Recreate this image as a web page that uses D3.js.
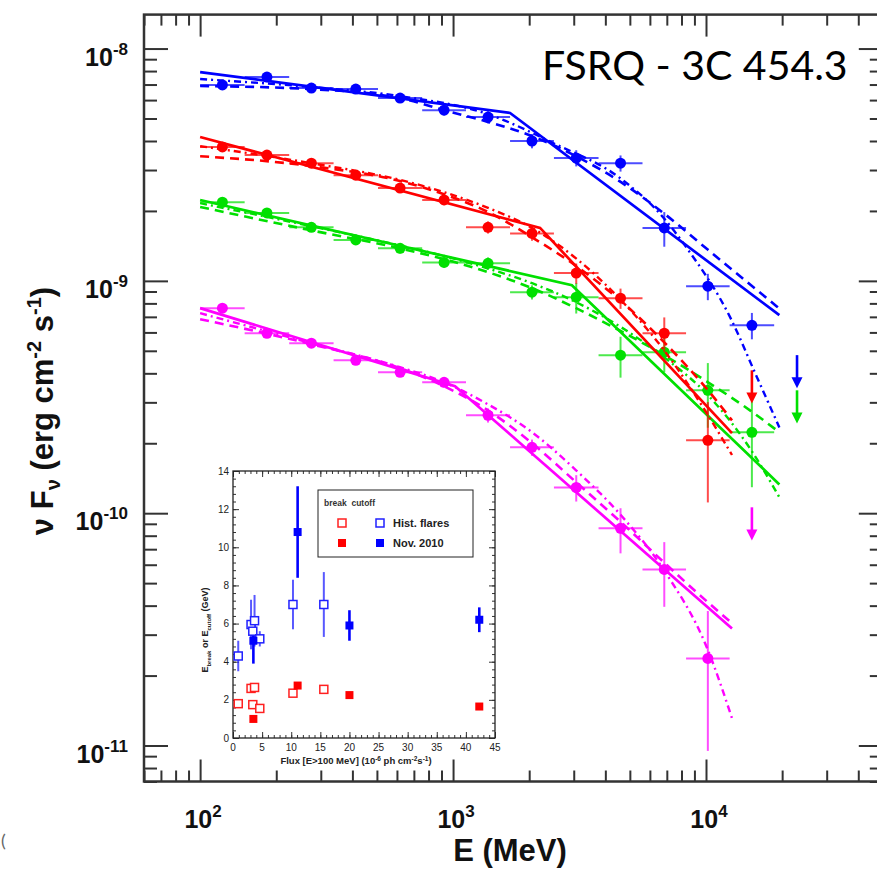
<!DOCTYPE html>
<html>
<head>
<meta charset="utf-8">
<script src="https://cdn.jsdelivr.net/npm/d3@7"></script>
<style>
  html, body { margin: 0; padding: 0; background: #fff; }
  svg { display: block; }
</style>
</head>
<body>
<svg id="chart" width="877" height="869"></svg>
<script>
// ---------------------------------------------------------------
// Gamma-ray SED of FSRQ 3C 454.3 in four epochs, with inset of
// fitted break / cutoff energies versus flux.
// ---------------------------------------------------------------

// Energy bin edges (MeV)
const binEdges = [100, 150, 225, 337, 505, 755, 1125, 1680, 2505, 3760, 5610, 8340, 12400, 18600, 28200];

// Axis domains and tick labels
const eDomain = [60, 50000];
const fDomain = [7e-12, 1.4e-8];
const eLabelTicks = [1e2, 1e3, 1e4];
const fLabelTicks = [1e-8, 1e-9, 1e-10, 1e-11];

// Blue epoch: nuFnu per bin (erg cm^-2 s^-1) and relative errors
const blueFlux = [6.97e-9, 7.54e-9, 6.76e-9, 6.69e-9, 6.12e-9, 5.43e-9, 5.07e-9, 4.0e-9, 3.38e-9, 3.21e-9, 1.69e-9, 9.49e-10, 6.44e-10];
const blueErr  = [0.04, 0.04, 0.04, 0.04, 0.04, 0.05, 0.06, 0.07, 0.08, 0.08, 0.17, 0.13, 0.13];
const blueUL   = { bin: 13, value: 4.79e-10 };
const blueBplE = [100, 1680, 19500];
const blueBplF = [7.92e-9, 5.28e-9, 7.12e-10];
const blueLpE  = [100, 275, 617, 921, 1375, 2053, 3064, 4613, 6823, 10185, 19500];
const blueLpF  = [6.90e-9, 6.69e-9, 6.12e-9, 5.43e-9, 4.83e-9, 4.20e-9, 3.44e-9, 2.66e-9, 1.95e-9, 1.36e-9, 7.60e-10];
const blueCutE = [100, 275, 617, 1375, 2485, 4571, 6761, 8414, 12450, 15900, 19500];
const blueCutF = [7.39e-9, 6.83e-9, 6.24e-9, 5.22e-9, 3.92e-9, 2.77e-9, 1.88e-9, 1.38e-9, 6.98e-10, 3.85e-10, 2.34e-10];

// Red epoch
const redFlux = [3.77e-9, 3.48e-9, 3.21e-9, 2.85e-9, 2.51e-9, 2.23e-9, 1.70e-9, 1.60e-9, 1.08e-9, 8.42e-10, 5.95e-10, 2.06e-10];
const redErr  = [0.04, 0.04, 0.04, 0.04, 0.04, 0.05, 0.06, 0.07, 0.1, 0.1, 0.17, 0.46];
const redUL   = { bin: 12, value: 4.12e-10 };
const redBplE = [100, 2208, 12670];
const redBplF = [4.16e-9, 1.69e-9, 2.21e-10];
const redLpE  = [100, 275, 617, 921, 1375, 2053, 3064, 4613, 6823, 10185, 12670];
const redLpF  = [3.44e-9, 3.12e-9, 2.69e-9, 2.36e-9, 1.98e-9, 1.54e-9, 1.16e-9, 8.18e-10, 5.45e-10, 3.38e-10, 2.51e-10];
const redCutE = [100, 275, 617, 921, 1375, 2053, 3064, 4613, 6823, 10185, 12670];
const redCutF = [3.80e-9, 3.21e-9, 2.72e-9, 2.41e-9, 2.06e-9, 1.69e-9, 1.25e-9, 8.26e-10, 5.03e-10, 2.64e-10, 1.78e-10];

// Green epoch
const greenFlux = [2.18e-9, 1.96e-9, 1.70e-9, 1.50e-9, 1.38e-9, 1.20e-9, 1.19e-9, 8.94e-10, 8.51e-10, 4.79e-10, 4.93e-10, 3.38e-10, 2.23e-10];
const greenErr  = [0.04, 0.04, 0.04, 0.04, 0.05, 0.05, 0.06, 0.07, 0.15, 0.2, 0.18, 0.31, 0.42];
const greenUL   = { bin: 13, value: 3.38e-10 };
const greenBplE = [100, 2950, 19500];
const greenBplF = [2.23e-9, 9.58e-10, 1.33e-10];
const greenLpE  = [100, 275, 617, 921, 1375, 2053, 3064, 4613, 6823, 10185, 15070, 19500];
const greenLpF  = [2.08e-9, 1.65e-9, 1.38e-9, 1.24e-9, 1.09e-9, 9.30e-10, 7.63e-10, 6.07e-10, 4.79e-10, 3.66e-10, 2.75e-10, 2.23e-10];
const greenCutE = [100, 275, 617, 921, 1375, 2053, 3064, 4613, 6823, 10185, 15070, 19500];
const greenCutF = [2.16e-9, 1.72e-9, 1.42e-9, 1.28e-9, 1.13e-9, 9.77e-10, 8.10e-10, 6.32e-10, 4.69e-10, 3.22e-10, 1.87e-10, 1.17e-10];

// Magenta epoch
const magentaFlux = [7.63e-10, 5.95e-10, 5.39e-10, 4.55e-10, 4.04e-10, 3.66e-10, 2.64e-10, 1.92e-10, 1.29e-10, 8.61e-11, 5.73e-11, 2.37e-11];
const magentaErr  = [0.04, 0.04, 0.04, 0.04, 0.04, 0.05, 0.07, 0.08, 0.13, 0.22, 0.31, 0.6];
const magentaUL   = { bin: 12, value: 1.06e-10 };
const magentaBplE = [100, 1018, 12670];
const magentaBplF = [7.63e-10, 3.52e-10, 3.19e-11];
const magentaLpE  = [100, 275, 617, 921, 1375, 2053, 3064, 4613, 6823, 10185, 12670];
const magentaLpF  = [6.84e-10, 5.34e-10, 4.21e-10, 3.52e-10, 2.77e-10, 2.00e-10, 1.36e-10, 9.14e-11, 6.14e-11, 4.13e-11, 3.36e-11];
const magentaCutE = [100, 275, 617, 921, 1375, 2053, 3064, 4613, 6823, 10185, 12670];
const magentaCutF = [7.26e-10, 5.39e-10, 4.25e-10, 3.66e-10, 2.94e-10, 2.23e-10, 1.53e-10, 9.79e-11, 5.68e-11, 2.57e-11, 1.31e-11];

// Inset: break / cutoff energies (GeV) vs. flux E>100 MeV (1e-6 ph cm^-2 s^-1)
const histFlux      = [0.9, 3.1, 3.7, 3.4, 4.6, 10.3, 15.6];
const histBreak     = [1.8, 2.6, 2.65, 1.75, 1.55, 2.35, 2.55];
const histCutoff    = [4.3, 5.95, 6.15, 5.6, 5.2, 7.0, 7.0];
const histCutoffErr = [0.8, 1.3, 1.35, 0.5, 0.4, 1.3, 1.7];
const novFlux       = [3.5, 11.1, 20.0, 42.3];
const novBreak      = [1.0, 2.75, 2.25, 1.65];
const novCutoff     = [5.1, 10.8, 5.9, 6.2];
const novCutoffErr  = [1.2, 2.4, 0.8, 0.65];
const insetXTicks   = [0, 5, 10, 15, 20, 25, 30, 35, 40, 45];
const insetYTicks   = [0, 2, 4, 6, 8, 10, 12, 14];

// ---------------------------------------------------------------
const W = 877, H = 869;
const svg = d3.select("#chart");
svg.append("rect").attr("width", W).attr("height", H).attr("fill", "#fff");

const FONT = "'Liberation Sans', Arial, Helvetica, sans-serif";
const AXIS = "#333";

const x = d3.scaleLog().domain(eDomain).range([144, 882.8]);
const y = d3.scaleLog().domain(fDomain).range([781.5, 14.6]);
const [x0, x1] = x.range();
const [y0, y1] = y.range();

function logTicks(lo, hi) {
  const out = [];
  for (let p = Math.floor(Math.log10(lo)); p <= Math.ceil(Math.log10(hi)); p++) {
    for (let k = 1; k < 10; k++) {
      const v = k * Math.pow(10, p);
      if (v >= lo * 0.999 && v <= hi * 1.001) out.push(v);
    }
  }
  return out;
}
const eTicks = logTicks(eDomain[0], eDomain[1]);
const fTicks = logTicks(fDomain[0], fDomain[1]);
const isMajor = v => Math.abs(Math.log10(v) - Math.round(Math.log10(v))) < 1e-6;

function tickAxis(axisFn, scale, values, size, transform) {
  const g = svg.append("g").attr("transform", transform)
    .call(axisFn(scale).tickValues(values).tickSize(size).tickFormat(""));
  g.select(".domain").remove();
  g.selectAll(".tick line").attr("stroke", AXIS).attr("stroke-width", 2);
  return g;
}
const eMinor = eTicks.filter(v => !isMajor(v)), eMajor = eTicks.filter(isMajor);
const fMinor = fTicks.filter(v => !isMajor(v)), fMajor = fTicks.filter(isMajor);

tickAxis(d3.axisBottom, x, eMinor, -11, `translate(0,${y0})`);
tickAxis(d3.axisBottom, x, eMajor, -22, `translate(0,${y0})`);
tickAxis(d3.axisTop, x, eMinor, -11, `translate(0,${y1})`);
tickAxis(d3.axisTop, x, eMajor, -22, `translate(0,${y1})`);
tickAxis(d3.axisLeft, y, fMinor, -13, `translate(${x0},0)`);
tickAxis(d3.axisLeft, y, fMajor, -24, `translate(${x0},0)`);
tickAxis(d3.axisRight, y, fMinor, -13, `translate(${x1},0)`);
tickAxis(d3.axisRight, y, fMajor, -24, `translate(${x1},0)`);

svg.append("rect")
  .attr("x", x0).attr("y", y1).attr("width", x1 - x0).attr("height", y0 - y1)
  .attr("fill", "none").attr("stroke", AXIS).attr("stroke-width", 2.5);

// Power-of-ten tick labels
eLabelTicks.forEach(v => {
  const t = svg.append("text").attr("x", x(v) + 3).attr("y", 828)
    .attr("text-anchor", "middle").attr("font-family", FONT)
    .attr("font-weight", "bold").attr("font-size", 25).attr("fill", "#111");
  t.append("tspan").text("10");
  t.append("tspan").attr("dy", -11).attr("font-size", 17).text(Math.round(Math.log10(v)));
});
fLabelTicks.forEach(v => {
  const t = svg.append("text").attr("x", 128).attr("y", y(v) + 17)
    .attr("text-anchor", "end").attr("font-family", FONT)
    .attr("font-weight", "bold").attr("font-size", 25).attr("fill", "#111");
  t.append("tspan").text("10");
  t.append("tspan").attr("dy", -11).attr("font-size", 17).text("-" + Math.abs(Math.round(Math.log10(v))));
});

// Axis titles
svg.append("text").attr("x", 510).attr("y", 861).attr("text-anchor", "middle")
  .attr("font-family", FONT).attr("font-weight", "bold").attr("font-size", 31)
  .attr("fill", "#111").text("E (MeV)");

const yt = svg.append("text").attr("transform", "translate(53,411) rotate(-90)")
  .attr("text-anchor", "middle").attr("font-family", FONT).attr("font-weight", "bold")
  .attr("font-size", 31).attr("fill", "#111");
yt.append("tspan").text("\u03bd F");
yt.append("tspan").attr("dy", 7).attr("font-size", 20).text("\u03bd");
yt.append("tspan").attr("dy", -7).text(" (erg cm");
yt.append("tspan").attr("dy", -12).attr("font-size", 20).text("-2");
yt.append("tspan").attr("dy", 12).text(" s");
yt.append("tspan").attr("dy", -12).attr("font-size", 20).text("-1");
yt.append("tspan").attr("dy", 12).text(")");

svg.append("text").attr("x", 542).attr("y", 80)
  .attr("font-family", "Lato, 'Open Sans', sans-serif").attr("font-size", 41)
  .attr("fill", "#000").text("FSRQ - 3C 454.3");

svg.append("text").attr("x", 1).attr("y", 847)
  .attr("font-family", "Lato, sans-serif").attr("font-size", 18)
  .attr("fill", "#666").text("(");

// ---------------------------------------------------------------
// SED series
const series = [
  { color: "#ff00ff", flux: magentaFlux, err: magentaErr, ul: magentaUL,
    bpl: [magentaBplE, magentaBplF], lp: [magentaLpE, magentaLpF], cut: [magentaCutE, magentaCutF] },
  { color: "#00e000", flux: greenFlux, err: greenErr, ul: greenUL,
    bpl: [greenBplE, greenBplF], lp: [greenLpE, greenLpF], cut: [greenCutE, greenCutF] },
  { color: "#ff0000", flux: redFlux, err: redErr, ul: redUL,
    bpl: [redBplE, redBplF], lp: [redLpE, redLpF], cut: [redCutE, redCutF] },
  { color: "#0000ff", flux: blueFlux, err: blueErr, ul: blueUL,
    bpl: [blueBplE, blueBplF], lp: [blueLpE, blueLpF], cut: [blueCutE, blueCutF] }
];

const straight = d3.line().x(d => x(d[0])).y(d => y(d[1]));
const smooth = d3.line().x(d => x(d[0])).y(d => y(d[1])).curve(d3.curveMonotoneX);
const zipPairs = ([es, fs]) => es.map((e, i) => [e, fs[i]]);
const binCenter = i => Math.sqrt(binEdges[i] * binEdges[i + 1]);

const plot = svg.append("g");
series.forEach(s => {
  const g = plot.append("g");
  g.append("path").attr("d", straight(zipPairs(s.bpl)))
    .attr("fill", "none").attr("stroke", s.color).attr("stroke-width", 2.7);
  g.append("path").attr("d", smooth(zipPairs(s.lp)))
    .attr("fill", "none").attr("stroke", s.color).attr("stroke-width", 2.6)
    .attr("stroke-dasharray", "9,6");
  g.append("path").attr("d", smooth(zipPairs(s.cut)))
    .attr("fill", "none").attr("stroke", s.color).attr("stroke-width", 2.4)
    .attr("stroke-dasharray", "7,4,2,4");

  s.flux.forEach((f, i) => {
    const cx = x(binCenter(i)), cy = y(f);
    g.append("line").attr("x1", x(binEdges[i])).attr("x2", x(binEdges[i + 1]))
      .attr("y1", cy).attr("y2", cy)
      .attr("stroke", s.color).attr("stroke-width", 2).attr("stroke-opacity", 0.7);
    g.append("line").attr("x1", cx).attr("x2", cx)
      .attr("y1", y(f * (1 - s.err[i]))).attr("y2", y(f * (1 + s.err[i])))
      .attr("stroke", s.color).attr("stroke-width", 2).attr("stroke-opacity", 0.7);
    g.append("circle").attr("cx", cx).attr("cy", cy).attr("r", 5.5).attr("fill", s.color);
  });

  // upper limit
  const ux = x(binCenter(s.ul.bin));
  const uTop = y(s.ul.value), uTip = y(s.ul.value * 0.72);
  g.append("line").attr("x1", ux).attr("x2", ux).attr("y1", uTop).attr("y2", uTip - 6)
    .attr("stroke", s.color).attr("stroke-width", 2.6);
  g.append("path")
    .attr("d", `M${ux - 5.5},${uTip - 11}L${ux + 5.5},${uTip - 11}L${ux},${uTip}Z`)
    .attr("fill", s.color);
});

// ---------------------------------------------------------------
// Inset
const xi = d3.scaleLinear().domain([0, 45]).range([233, 495]);
const yi = d3.scaleLinear().domain([0, 14]).range([738, 471]);
const inset = svg.append("g");
inset.append("rect").attr("x", 233).attr("y", 471).attr("width", 262).attr("height", 267)
  .attr("fill", "#fff");

function insetTicks(axisFn, scale, values, size, transform) {
  const g = inset.append("g").attr("transform", transform)
    .call(axisFn(scale).tickValues(values).tickSize(size).tickFormat(""));
  g.select(".domain").remove();
  g.selectAll(".tick line").attr("stroke", "#333").attr("stroke-width", 1);
}
const ixMinor = d3.range(0, 45.01, 1);
const iyMinor = d3.range(0, 14.01, 0.4);
insetTicks(d3.axisBottom, xi, ixMinor, -3, "translate(0,738)");
insetTicks(d3.axisBottom, xi, insetXTicks, -6, "translate(0,738)");
insetTicks(d3.axisTop, xi, ixMinor, -3, "translate(0,471)");
insetTicks(d3.axisTop, xi, insetXTicks, -6, "translate(0,471)");
insetTicks(d3.axisLeft, yi, iyMinor, -3, "translate(233,0)");
insetTicks(d3.axisLeft, yi, insetYTicks, -6, "translate(233,0)");
insetTicks(d3.axisRight, yi, iyMinor, -3, "translate(495,0)");
insetTicks(d3.axisRight, yi, insetYTicks, -6, "translate(495,0)");
inset.append("rect").attr("x", 233).attr("y", 471).attr("width", 262).attr("height", 267)
  .attr("fill", "none").attr("stroke", "#222").attr("stroke-width", 1.3);

insetXTicks.forEach(v => inset.append("text").attr("x", xi(v)).attr("y", 751)
  .attr("text-anchor", "middle").attr("font-family", FONT).attr("font-size", 10)
  .attr("fill", "#222").text(v));
insetYTicks.forEach(v => inset.append("text").attr("x", 229).attr("y", yi(v) + 3.5)
  .attr("text-anchor", "end").attr("font-family", FONT).attr("font-size", 10)
  .attr("fill", "#222").text(v));

const ixt = inset.append("text").attr("x", 356).attr("y", 764).attr("text-anchor", "middle")
  .attr("font-family", FONT).attr("font-weight", "bold").attr("font-size", 9.5).attr("fill", "#222");
ixt.append("tspan").text("Flux [E>100 MeV] (10");
ixt.append("tspan").attr("dy", -3.5).attr("font-size", 6.5).text("-6");
ixt.append("tspan").attr("dy", 3.5).text(" ph cm");
ixt.append("tspan").attr("dy", -3.5).attr("font-size", 6.5).text("-2");
ixt.append("tspan").attr("dy", 3.5).text("s");
ixt.append("tspan").attr("dy", -3.5).attr("font-size", 6.5).text("-1");
ixt.append("tspan").attr("dy", 3.5).text(")");

const iyt = inset.append("text").attr("transform", "translate(208,630) rotate(-90)")
  .attr("text-anchor", "middle").attr("font-family", FONT).attr("font-weight", "bold")
  .attr("font-size", 9).attr("fill", "#222");
iyt.append("tspan").text("E");
iyt.append("tspan").attr("dy", 2.5).attr("font-size", 6).text("break");
iyt.append("tspan").attr("dy", -2.5).text(" or E");
iyt.append("tspan").attr("dy", 2.5).attr("font-size", 6).text("cutoff");
iyt.append("tspan").attr("dy", -2.5).text(" (GeV)");

// error bars then markers
function vbar(fx, e, err, color, width, opacity) {
  inset.append("line").attr("x1", xi(fx)).attr("x2", xi(fx))
    .attr("y1", yi(e - err)).attr("y2", yi(e + err))
    .attr("stroke", color).attr("stroke-width", width).attr("stroke-opacity", opacity);
}
histFlux.forEach((fx, i) => vbar(fx, histCutoff[i], histCutoffErr[i], "#2020ff", 2, 0.75));
novFlux.forEach((fx, i) => vbar(fx, novCutoff[i], novCutoffErr[i], "#0000ff", 2.6, 1));

const SQ = 8;
function square(cx, cy, color, filled) {
  inset.append("rect").attr("x", cx - SQ / 2).attr("y", cy - SQ / 2)
    .attr("width", SQ).attr("height", SQ)
    .attr("fill", filled ? color : "#fff").attr("stroke", color)
    .attr("stroke-width", filled ? 0 : 1.5);
}
histFlux.forEach((fx, i) => { square(xi(fx), yi(histBreak[i]), "#ff2020", false); });
histFlux.forEach((fx, i) => { square(xi(fx), yi(histCutoff[i]), "#2020ff", false); });
novFlux.forEach((fx, i) => { square(xi(fx), yi(novBreak[i]), "#ff0000", true); });
novFlux.forEach((fx, i) => { square(xi(fx), yi(novCutoff[i]), "#0000ff", true); });

// legend
inset.append("rect").attr("x", 318).attr("y", 490).attr("width", 155).attr("height", 67)
  .attr("fill", "#fff").attr("stroke", "#222").attr("stroke-width", 1);
inset.append("text").attr("x", 324).attr("y", 506).attr("font-family", FONT)
  .attr("font-weight", "bold").attr("font-size", 8.5).attr("fill", "#333")
  .attr("xml:space", "preserve").text("break  cutoff");
square(342, 523, "#ff2020", false);
square(380, 523, "#2020ff", false);
square(342, 543, "#ff0000", true);
square(380, 543, "#0000ff", true);
inset.append("text").attr("x", 393).attr("y", 527).attr("font-family", FONT)
  .attr("font-weight", "bold").attr("font-size", 11).attr("fill", "#222").text("Hist. flares");
inset.append("text").attr("x", 393).attr("y", 547).attr("font-family", FONT)
  .attr("font-weight", "bold").attr("font-size", 11).attr("fill", "#222").text("Nov. 2010");
</script>
</body>
</html>
